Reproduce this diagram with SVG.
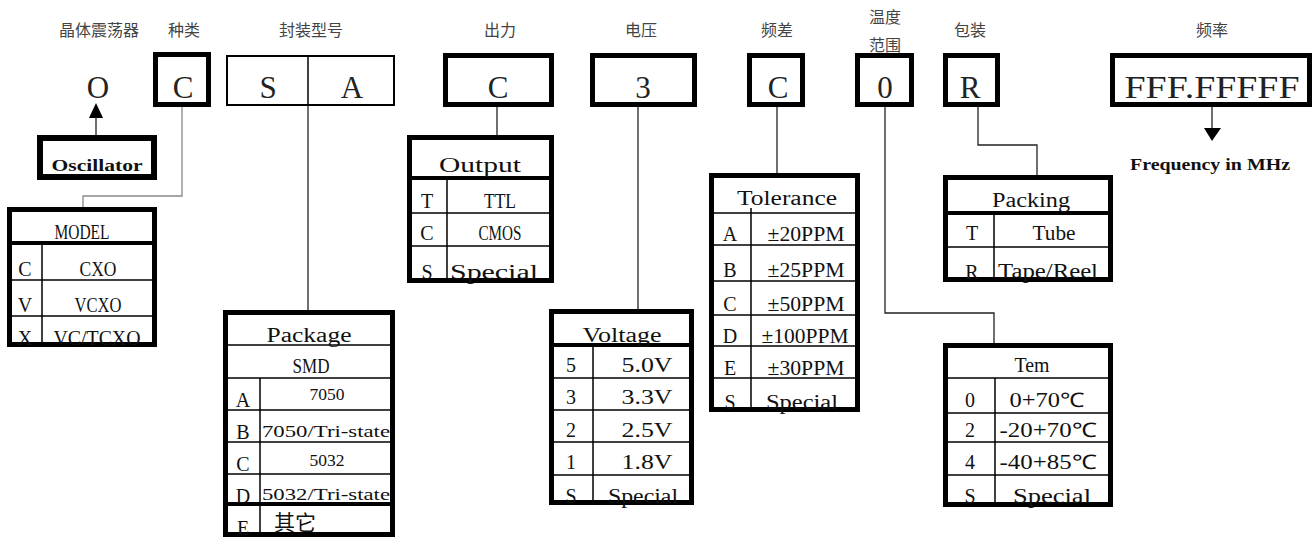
<svg xmlns="http://www.w3.org/2000/svg" width="1315" height="538" viewBox="0 0 1315 538">
<style>
.bx{fill:#fff;stroke:#000;stroke-width:5}
.sa{fill:#fff;stroke:#000;stroke-width:2}
.ln{stroke:#000;stroke-width:1.5;fill:none}
.hd{stroke:#000;stroke-width:4;fill:none}
.conn{fill:none;stroke:#222;stroke-width:1.3}
.gconn{fill:none;stroke:#888;stroke-width:1.3}
.cn{font-family:"Noto Sans CJK SC","Noto Sans CJK JP",sans-serif;font-size:16px;fill:#444;text-anchor:middle}
.big{font-family:"Liberation Serif",serif;font-size:31px;fill:#222;text-anchor:middle}
.t{font-family:"Liberation Serif",serif;font-size:20px;fill:#111;text-anchor:middle}
.s{font-family:"Liberation Serif",serif;font-size:16px;fill:#111;text-anchor:middle}
.b{font-family:"Liberation Serif",serif;font-size:16px;font-weight:bold;fill:#111;text-anchor:middle}
</style>

<g id="labels">
<text class="cn" x="99" y="36">晶体震荡器</text>
<text class="cn" x="184" y="36">种类</text>
<text class="cn" x="311" y="36">封装型号</text>
<text class="cn" x="500" y="36">出力</text>
<text class="cn" x="641" y="36">电压</text>
<text class="cn" x="777" y="36">频差</text>
<text class="cn" x="885" y="23">温度</text>
<text class="cn" x="885" y="51">范围</text>
<text class="cn" x="970" y="36">包装</text>
<text class="cn" x="1212" y="36">频率</text>
</g>

<g id="connectors">
<path class="conn" d="M96,135 V116"/>
<polygon points="89,118 103,118 96,103" fill="#000"/>
<path class="gconn" d="M182,107 V196 H83 V207"/>
<path class="conn" d="M308,106 V310"/>
<path class="conn" d="M497,107 V135"/>
<path class="conn" d="M638,107 V309"/>
<path class="conn" d="M777,107 V173"/>
<path class="conn" d="M885,107 V313 H994 V343"/>
<path class="conn" d="M978,107 V145 H1037 V175"/>
<path class="conn" d="M1212,107 V129"/>
<polygon points="1204,128 1221,128 1212,141" fill="#000"/>
</g>

<g id="node-o"><text class="big" x="98" y="98">O</text></g>

<g id="node-oscillator">
<rect class="bx" x="40" y="138" width="114" height="39" style="stroke-width:6"/>
<text class="b" x="97" y="171" textLength="91" lengthAdjust="spacingAndGlyphs">Oscillator</text>
</g>

<g id="node-type">
<rect class="bx" x="155.5" y="54.5" width="53" height="50"/>
<text class="big" x="183" y="98">C</text>
</g>

<g id="node-package-code">
<rect class="sa" x="227" y="56" width="167" height="49"/>
<line class="ln" x1="308" y1="55" x2="308" y2="106"/>
<text class="big" x="268" y="98">S</text>
<text class="big" x="352" y="98">A</text>
</g>

<g id="node-output-code">
<rect class="bx" x="445.5" y="55.5" width="106" height="49"/>
<text class="big" x="498" y="98">C</text>
</g>

<g id="node-voltage-code">
<rect class="bx" x="592.5" y="55.5" width="102" height="49"/>
<text class="big" x="643" y="98">3</text>
</g>

<g id="node-tolerance-code">
<rect class="bx" x="749.5" y="55.5" width="53" height="49"/>
<text class="big" x="778" y="98">C</text>
</g>

<g id="node-temp-code">
<rect class="bx" x="857.5" y="55.5" width="54" height="49"/>
<text class="big" x="885" y="98">0</text>
</g>

<g id="node-packing-code">
<rect class="bx" x="945.5" y="55.5" width="52" height="49"/>
<text class="big" x="970" y="98">R</text>
</g>

<g id="node-frequency">
<rect class="bx" x="1112.5" y="55.5" width="197" height="49"/>
<text class="big" x="1212" y="98" textLength="175" lengthAdjust="spacingAndGlyphs">FFF.FFFFF</text>
<text class="b" x="1210" y="170" textLength="160" lengthAdjust="spacingAndGlyphs">Frequency in MHz</text>
</g>

<g id="table-model">
<rect class="bx" x="9.5" y="209.5" width="145" height="135"/>
<line class="hd" x1="7" y1="243" x2="157" y2="243"/>
<line class="ln" x1="7" y1="280" x2="157" y2="280"/>
<line class="ln" x1="7" y1="316" x2="157" y2="316"/>
<line class="ln" x1="42" y1="243" x2="42" y2="347"/>
<text class="t" x="82" y="239" textLength="55" lengthAdjust="spacingAndGlyphs">MODEL</text>
<text class="t" x="25" y="276">C</text><text class="t" x="98" y="276" textLength="37" lengthAdjust="spacingAndGlyphs">CXO</text>
<text class="t" x="25" y="312">V</text><text class="t" x="98" y="312" textLength="47" lengthAdjust="spacingAndGlyphs">VCXO</text>
<text class="t" x="25" y="345">X</text><text class="t" x="97" y="345" textLength="87" lengthAdjust="spacingAndGlyphs">VC/TCXO</text>
</g>

<g id="table-package">
<rect class="bx" x="225.5" y="312.5" width="167" height="222"/>
<line class="ln" x1="223" y1="345" x2="395" y2="345"/>
<line class="ln" x1="223" y1="378" x2="395" y2="378"/>
<line class="ln" x1="223" y1="410" x2="395" y2="410"/>
<line class="ln" x1="223" y1="442" x2="395" y2="442"/>
<line class="ln" x1="223" y1="474" x2="395" y2="474"/>
<line class="hd" x1="223" y1="504" x2="395" y2="504"/>
<line class="ln" x1="260" y1="378" x2="260" y2="537"/>
<text class="t" x="309" y="342" textLength="85" lengthAdjust="spacingAndGlyphs">Package</text>
<text class="t" x="311" y="373" textLength="37" lengthAdjust="spacingAndGlyphs">SMD</text>
<text class="t" x="243" y="407">A</text><text class="s" x="327" y="400" textLength="35" lengthAdjust="spacingAndGlyphs">7050</text>
<text class="t" x="243" y="439">B</text><text class="s" x="326" y="437" textLength="128" lengthAdjust="spacingAndGlyphs">7050/Tri-state</text>
<text class="t" x="243" y="471">C</text><text class="s" x="327" y="466" textLength="35" lengthAdjust="spacingAndGlyphs">5032</text>
<text class="t" x="243" y="503">D</text><text class="s" x="326" y="500" textLength="128" lengthAdjust="spacingAndGlyphs">5032/Tri-state</text>
<text class="t" x="243" y="535">E</text>
<text class="cn" x="295" y="530" style="font-size:21px;fill:#111">其它</text>
</g>

<g id="table-output">
<rect class="bx" x="409.5" y="137.5" width="142" height="143"/>
<line class="hd" x1="407" y1="178" x2="554" y2="178"/>
<line class="ln" x1="407" y1="213" x2="554" y2="213"/>
<line class="ln" x1="407" y1="246" x2="554" y2="246"/>
<line class="ln" x1="447" y1="178" x2="447" y2="283"/>
<text class="t" x="480" y="172" textLength="82" lengthAdjust="spacingAndGlyphs">Output</text>
<text class="t" x="427" y="208">T</text><text class="t" x="500" y="208" textLength="32" lengthAdjust="spacingAndGlyphs">TTL</text>
<text class="t" x="427" y="240">C</text><text class="t" x="500" y="240" textLength="43" lengthAdjust="spacingAndGlyphs">CMOS</text>
<text class="t" x="427" y="279">S</text><text class="t" x="494" y="279" textLength="88" lengthAdjust="spacingAndGlyphs">Special</text>
</g>

<g id="table-voltage">
<rect class="bx" x="551.5" y="311.5" width="140" height="191"/>
<line class="hd" x1="549" y1="345" x2="694" y2="345"/>
<line class="ln" x1="549" y1="378" x2="694" y2="378"/>
<line class="ln" x1="549" y1="410" x2="694" y2="410"/>
<line class="ln" x1="549" y1="442" x2="694" y2="442"/>
<line class="ln" x1="549" y1="475" x2="694" y2="475"/>
<line class="ln" x1="593" y1="345" x2="593" y2="505"/>
<text class="t" x="622" y="342" textLength="79" lengthAdjust="spacingAndGlyphs">Voltage</text>
<text class="t" x="571" y="372">5</text><text class="t" x="647" y="372" textLength="51" lengthAdjust="spacingAndGlyphs">5.0V</text>
<text class="t" x="571" y="404">3</text><text class="t" x="647" y="404" textLength="51" lengthAdjust="spacingAndGlyphs">3.3V</text>
<text class="t" x="571" y="437">2</text><text class="t" x="647" y="437" textLength="51" lengthAdjust="spacingAndGlyphs">2.5V</text>
<text class="t" x="571" y="469">1</text><text class="t" x="647" y="469" textLength="51" lengthAdjust="spacingAndGlyphs">1.8V</text>
<text class="t" x="571" y="503">S</text><text class="t" x="643" y="503" textLength="70" lengthAdjust="spacingAndGlyphs">Special</text>
</g>

<g id="table-tolerance">
<rect class="bx" x="711.5" y="175.5" width="146" height="234"/>
<line class="ln" x1="709" y1="213" x2="860" y2="213"/>
<line class="ln" x1="709" y1="245" x2="860" y2="245"/>
<line class="ln" x1="709" y1="281" x2="860" y2="281"/>
<line class="ln" x1="709" y1="315" x2="860" y2="315"/>
<line class="ln" x1="709" y1="346" x2="860" y2="346"/>
<line class="ln" x1="709" y1="378" x2="860" y2="378"/>
<line class="ln" x1="751" y1="208" x2="751" y2="412"/>
<text class="t" x="787" y="205" textLength="100" lengthAdjust="spacingAndGlyphs">Tolerance</text>
<text class="t" x="730" y="241">A</text><text class="t" x="806" y="241" textLength="77" lengthAdjust="spacingAndGlyphs">±20PPM</text>
<text class="t" x="730" y="277">B</text><text class="t" x="806" y="277" textLength="77" lengthAdjust="spacingAndGlyphs">±25PPM</text>
<text class="t" x="730" y="311">C</text><text class="t" x="806" y="311" textLength="77" lengthAdjust="spacingAndGlyphs">±50PPM</text>
<text class="t" x="730" y="343">D</text><text class="t" x="805" y="343" textLength="87" lengthAdjust="spacingAndGlyphs">±100PPM</text>
<text class="t" x="730" y="375">E</text><text class="t" x="806" y="375" textLength="77" lengthAdjust="spacingAndGlyphs">±30PPM</text>
<text class="t" x="730" y="409">S</text><text class="t" x="802" y="409" textLength="72" lengthAdjust="spacingAndGlyphs">Special</text>
</g>

<g id="table-packing">
<rect class="bx" x="945.5" y="177.5" width="165" height="102"/>
<line class="hd" x1="943" y1="213" x2="1113" y2="213"/>
<line class="ln" x1="943" y1="247" x2="1113" y2="247"/>
<line class="ln" x1="994" y1="213" x2="994" y2="282"/>
<text class="t" x="1031" y="207" textLength="78" lengthAdjust="spacingAndGlyphs">Packing</text>
<text class="t" x="972" y="240">T</text><text class="t" x="1054" y="240" textLength="43" lengthAdjust="spacingAndGlyphs">Tube</text>
<text class="t" x="972" y="279">R</text><text class="t" x="1048" y="278" textLength="100" lengthAdjust="spacingAndGlyphs">Tape/Reel</text>
</g>

<g id="table-tem">
<rect class="bx" x="945.5" y="345.5" width="165" height="159"/>
<line class="ln" x1="943" y1="378" x2="1113" y2="378"/>
<line class="ln" x1="943" y1="413" x2="1113" y2="413"/>
<line class="ln" x1="943" y1="442" x2="1113" y2="442"/>
<line class="ln" x1="943" y1="475" x2="1113" y2="475"/>
<line class="ln" x1="995" y1="378" x2="995" y2="507"/>
<text class="t" x="1032" y="372" textLength="35" lengthAdjust="spacingAndGlyphs">Tem</text>
<text class="t" x="970" y="407">0</text><text class="t" x="1047" y="407" textLength="75" lengthAdjust="spacingAndGlyphs">0+70℃</text>
<text class="t" x="970" y="437">2</text><text class="t" x="1048" y="437" textLength="97" lengthAdjust="spacingAndGlyphs">-20+70℃</text>
<text class="t" x="970" y="469">4</text><text class="t" x="1048" y="469" textLength="97" lengthAdjust="spacingAndGlyphs">-40+85℃</text>
<text class="t" x="970" y="503">S</text><text class="t" x="1052" y="503" textLength="78" lengthAdjust="spacingAndGlyphs">Special</text>
</g>
</svg>
